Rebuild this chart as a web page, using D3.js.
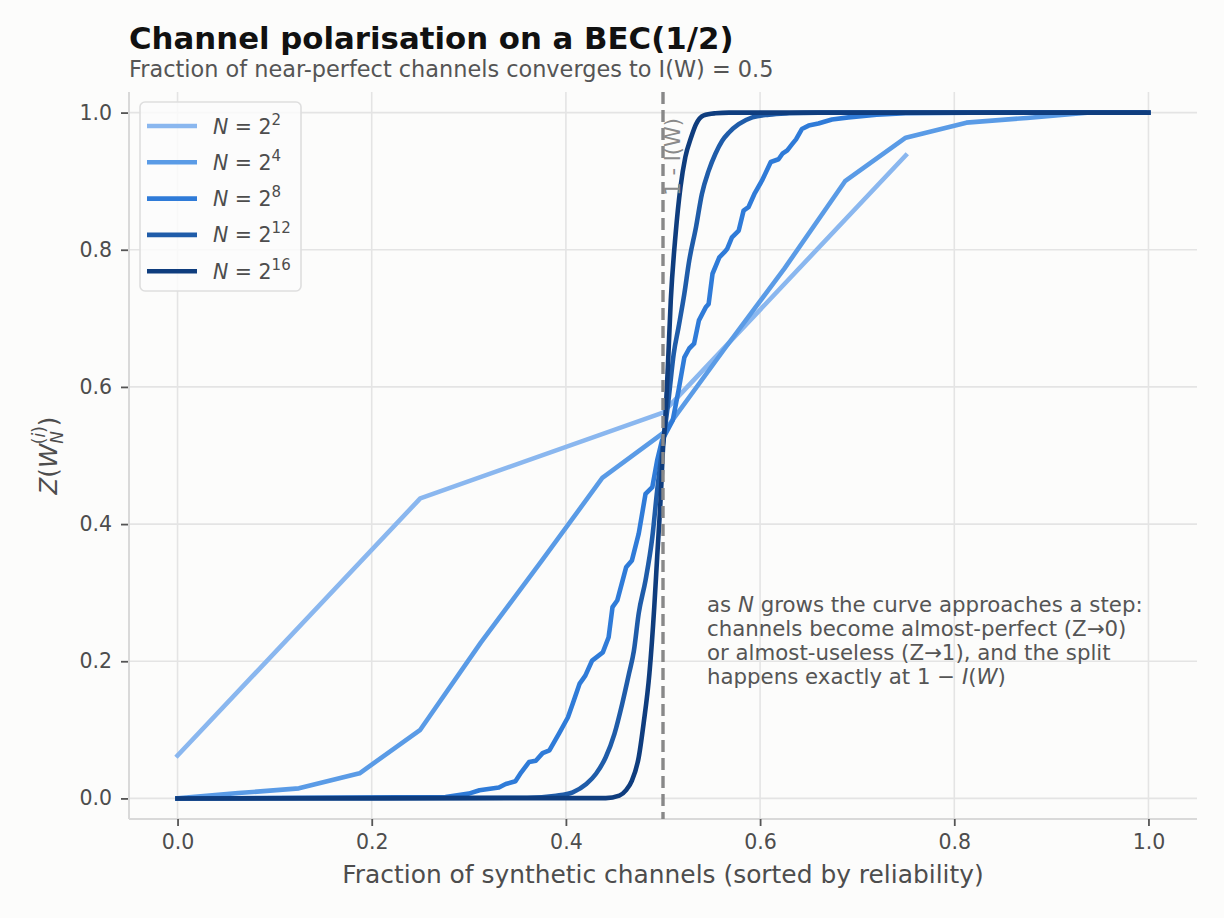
<!DOCTYPE html>
<html>
<head>
<meta charset="utf-8">
<script src="https://cdn.jsdelivr.net/npm/d3@7/dist/d3.min.js"></script>
<style>
  body { margin: 0; background: #fcfcfb; }
  svg { display: block; font-family: "DejaVu Sans", sans-serif; }
</style>
</head>
<body>
<script>
// ---- data ----
// N = 2^2 (sorted Bhattacharyya parameters)
var n4X = [0, 0.25, 0.5, 0.75];
var n4Z = [0.0625, 0.4375, 0.5625, 0.9375];

// N = 2^4
var n16X = [0, 0.0625, 0.125, 0.1875, 0.25, 0.3125, 0.375, 0.4375,
            0.5, 0.5625, 0.625, 0.6875, 0.75, 0.8125, 0.875, 0.9375];
var n16Z = [0.00002, 0.0078, 0.0147, 0.0366, 0.1001, 0.2275, 0.3462, 0.4673,
            0.5327, 0.6538, 0.7725, 0.8999, 0.9634, 0.9853, 0.9922, 0.99998];

// N = 2^8
var n256X = [0, 0.276, 0.300, 0.311, 0.331, 0.338, 0.348, 0.354, 0.362, 0.369, 0.376, 0.383,
             0.393, 0.402, 0.407, 0.414, 0.420, 0.427, 0.438, 0.444, 0.448, 0.453, 0.462, 0.468,
             0.475, 0.482, 0.489, 0.494, 0.499, 0.510, 0.516, 0.522, 0.527, 0.532, 0.537, 0.544,
             0.547, 0.551, 0.558, 0.563, 0.566, 0.571, 0.578, 0.583, 0.588, 0.594, 0.602, 0.611,
             0.619, 0.623, 0.628, 0.633, 0.637, 0.643, 0.650, 0.660, 0.674, 0.691, 0.720, 0.750,
             0.850, 0.996];
var n256Z = [0, 0.002, 0.007, 0.012, 0.016, 0.021, 0.025, 0.038, 0.053, 0.055, 0.066, 0.070,
             0.095, 0.118, 0.138, 0.167, 0.179, 0.201, 0.213, 0.235, 0.279, 0.289, 0.337, 0.347,
             0.386, 0.444, 0.454, 0.493, 0.522, 0.551, 0.595, 0.643, 0.656, 0.663, 0.697, 0.716,
             0.721, 0.765, 0.789, 0.796, 0.801, 0.818, 0.828, 0.857, 0.862, 0.881, 0.901, 0.928,
             0.932, 0.940, 0.945, 0.954, 0.961, 0.976, 0.981, 0.984, 0.990, 0.993, 0.997, 0.999,
             1.0, 1.0];

// N = 2^12
var n4096X = [0, 0.360, 0.390, 0.407, 0.421, 0.431, 0.441, 0.450, 0.458, 0.465, 0.470, 0.475,
              0.482, 0.489, 0.494, 0.499, 0.506, 0.511, 0.516, 0.522, 0.527, 0.534, 0.540, 0.547,
              0.554, 0.561, 0.568, 0.578, 0.592, 0.609, 0.630, 0.660, 1.0];
var n4096Z = [0, 0.001, 0.004, 0.009, 0.021, 0.036, 0.060, 0.094, 0.138, 0.182, 0.215, 0.270,
              0.318, 0.381, 0.449, 0.507, 0.585, 0.648, 0.687, 0.736, 0.784, 0.833, 0.881, 0.915,
              0.940, 0.959, 0.971, 0.983, 0.993, 0.997, 0.999, 1.0, 1.0];

// N = 2^16
var n65536X = [0, 0.441, 0.455, 0.462, 0.468, 0.475, 0.480, 0.486, 0.491, 0.494, 0.498, 0.500,
               0.502, 0.505, 0.508, 0.513, 0.518, 0.523, 0.529, 0.534, 0.542, 0.554, 0.568, 1.0];
var n65536Z = [0, 0.0005, 0.004, 0.012, 0.026, 0.060, 0.109, 0.182, 0.279, 0.352, 0.449, 0.510,
               0.545, 0.629, 0.726, 0.823, 0.891, 0.935, 0.964, 0.983, 0.996, 0.999, 1.0, 1.0];

var exponents = ["2", "4", "8", "12", "16"];
var colors = ["#8ab7ef", "#5a9be6", "#2f7bd8", "#1f5ca9", "#0f3d7e"];
var xTicks = [0, 0.2, 0.4, 0.6, 0.8, 1.0];
var yTicks = [0, 0.2, 0.4, 0.6, 0.8, 1.0];
var splitAt = 0.5;   // 1 - I(W)

var annotLines = [
  [["as ", ""], ["N", "italic"], [" grows the curve approaches a step:", ""]],
  [["channels become almost-perfect (Z\u21920)", ""]],
  [["or almost-useless (Z\u21921), and the split", ""]],
  [["happens exactly at 1 \u2212 ", ""], ["I", "italic"], ["(", ""], ["W", "italic"], [")", ""]]
];

// ---- layout ----
var w = 1224, h = 918;
var pLeft = 129, pRight = 1197, pTop = 92, pBottom = 819;

var svg = d3.select("body").append("svg")
  .attr("width", w).attr("height", h)
  .style("background", "#fcfcfb");

var x = d3.scaleLinear().domain([-0.05, 1.05]).range([pLeft, pRight]);
var y = d3.scaleLinear().domain([-0.03, 1.03]).range([pBottom, pTop]);

// grid
svg.append("g").selectAll("line").data(xTicks).enter().append("line")
  .attr("x1", function(d){ return x(d); }).attr("x2", function(d){ return x(d); })
  .attr("y1", pTop).attr("y2", pBottom)
  .attr("stroke", "#e4e4e4").attr("stroke-width", 1.6);
svg.append("g").selectAll("line").data(yTicks).enter().append("line")
  .attr("x1", pLeft).attr("x2", pRight)
  .attr("y1", function(d){ return y(d); }).attr("y2", function(d){ return y(d); })
  .attr("stroke", "#e4e4e4").attr("stroke-width", 1.6);

// spines (left + bottom only)
svg.append("line").attr("x1", pLeft).attr("x2", pLeft).attr("y1", pTop).attr("y2", pBottom)
  .attr("stroke", "#d9d9d9").attr("stroke-width", 2);
svg.append("line").attr("x1", pLeft).attr("x2", pRight).attr("y1", pBottom).attr("y2", pBottom)
  .attr("stroke", "#d9d9d9").attr("stroke-width", 2);

// axes
var fmt = d3.format(".1f");
var xAxis = svg.append("g").attr("transform", "translate(0," + pBottom + ")")
  .call(d3.axisBottom(x).tickValues(xTicks).tickFormat(fmt).tickSize(7).tickPadding(8));
var yAxis = svg.append("g").attr("transform", "translate(" + pLeft + ",0)")
  .call(d3.axisLeft(y).tickValues(yTicks).tickFormat(fmt).tickSize(7).tickPadding(10));
[xAxis, yAxis].forEach(function(a){
  a.select(".domain").remove();
  a.selectAll(".tick line").attr("stroke", "#555").attr("stroke-width", 1.8);
  a.selectAll(".tick text").attr("fill", "#4d4d4d")
    .style("font-family", "DejaVu Sans").style("font-size", "20.5px");
});
yAxis.selectAll(".tick line").attr("transform", "translate(-1,0)");

// curves
var series = [
  { xs: n4X, zs: n4Z, smooth: false },
  { xs: n16X, zs: n16Z, smooth: false },
  { xs: n256X, zs: n256Z, smooth: false },
  { xs: n4096X, zs: n4096Z, smooth: true },
  { xs: n65536X, zs: n65536Z, smooth: true }
];

series.forEach(function(s, i){
  var pts = s.xs.map(function(v, j){ return [v, s.zs[j]]; });
  var line = d3.line()
    .x(function(d){ return x(d[0]); })
    .y(function(d){ return y(d[1]); })
    .curve(s.smooth ? d3.curveMonotoneX : d3.curveLinear);
  svg.append("path").datum(pts)
    .attr("d", line)
    .attr("fill", "none")
    .attr("stroke", colors[i])
    .attr("stroke-width", 4.6)
    .attr("stroke-linejoin", "round")
    .attr("stroke-linecap", "square");
});

// split line at 1 - I(W)
svg.append("line")
  .attr("x1", x(splitAt)).attr("x2", x(splitAt)).attr("y1", pTop).attr("y2", pBottom)
  .attr("stroke", "#888").attr("stroke-width", 3.4)
  .attr("stroke-dasharray", "12,6");

svg.append("text")
  .attr("transform", "translate(" + (x(splitAt) + 17) + "," + (pTop + 26) + ") rotate(-90)")
  .attr("text-anchor", "end")
  .attr("fill", "#8a8a8a")
  .style("font-size", "21px")
  .text("1 - I(W)");

// legend
var lg = svg.append("g").attr("transform", "translate(140,102)");
lg.append("rect").attr("width", 161).attr("height", 189).attr("rx", 5)
  .attr("fill", "#fcfcfb").attr("fill-opacity", 0.85)
  .attr("stroke", "#dedede").attr("stroke-width", 1.6);
exponents.forEach(function(e, i){
  var cy = 24 + i * 36.3;
  lg.append("line").attr("x1", 7).attr("x2", 57).attr("y1", cy).attr("y2", cy)
    .attr("stroke", colors[i]).attr("stroke-width", 4.6);
  var t = lg.append("text").attr("x", 73).attr("y", cy + 7.5)
    .attr("fill", "#4d4d4d").style("font-size", "20.5px");
  t.append("tspan").style("font-style", "italic").text("N");
  t.append("tspan").text(" = 2");
  t.append("tspan").attr("dy", -9).style("font-size", "15px").text(e);
});

// annotation
var an = svg.append("text").attr("fill", "#555").style("font-size", "21.3px");
annotLines.forEach(function(parts, i){
  parts.forEach(function(p, k){
    var ts = an.append("tspan").text(p[0]);
    if (k === 0) ts.attr("x", 707).attr("y", 611.5 + i * 24.2);
    if (p[1]) ts.style("font-style", p[1]);
  });
});

// title + subtitle
svg.append("text").attr("x", pLeft).attr("y", 49)
  .attr("fill", "#111").style("font-size", "30.8px").style("font-weight", "bold")
  .text("Channel polarisation on a BEC(1/2)");
svg.append("text").attr("x", pLeft).attr("y", 77)
  .attr("fill", "#555").style("font-size", "22.4px")
  .text("Fraction of near-perfect channels converges to I(W) = 0.5");

// axis labels
svg.append("text").attr("x", (pLeft + pRight) / 2).attr("y", 883)
  .attr("text-anchor", "middle").attr("fill", "#4d4d4d").style("font-size", "24.9px")
  .text("Fraction of synthetic channels (sorted by reliability)");

var yl = svg.append("text")
  .attr("transform", "translate(57," + ((pTop + pBottom) / 2) + ") rotate(-90)")
  .attr("text-anchor", "middle").attr("fill", "#4d4d4d").style("font-size", "24.5px");
yl.append("tspan").style("font-style", "italic").text("Z");
yl.append("tspan").text("(");
yl.append("tspan").style("font-style", "italic").text("W");
yl.append("tspan").attr("dy", 6).style("font-size", "17px").style("font-style", "italic").text("N");
yl.append("tspan").attr("dx", -13).attr("dy", -18).style("font-size", "17px").text("(");
yl.append("tspan").style("font-size", "17px").style("font-style", "italic").text("i");
yl.append("tspan").style("font-size", "17px").text(")");
yl.append("tspan").attr("dy", 12).text(")");
</script>
</body>
</html>
